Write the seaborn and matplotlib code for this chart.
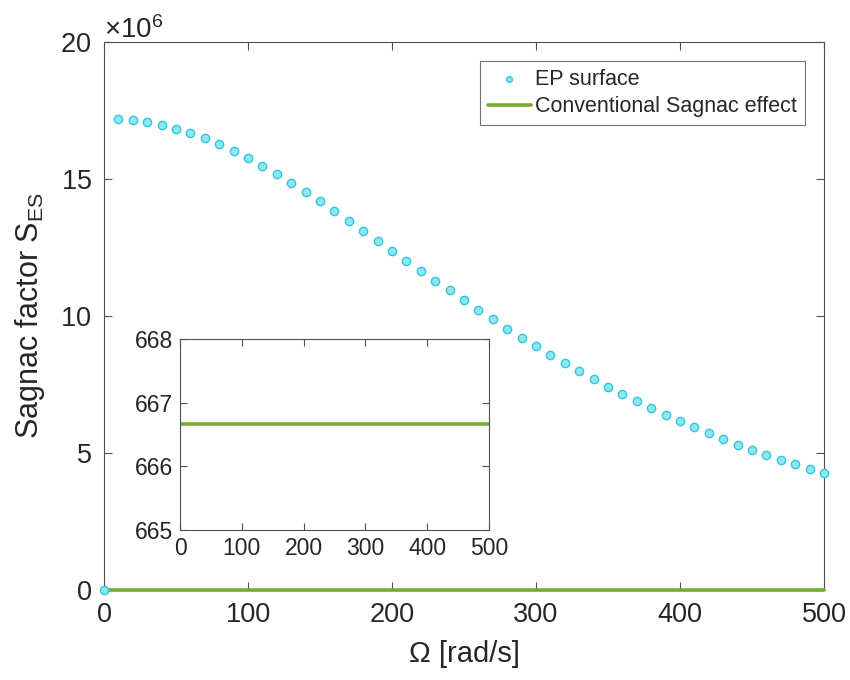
import numpy as np
import pandas as pd
import seaborn as sns
import matplotlib.pyplot as plt
from matplotlib.ticker import ScalarFormatter

# Data
omega = [0, 10, 20, 30, 40, 50, 60, 70, 80, 90, 100, 110, 120, 130, 140, 150,
         160, 170, 180, 190, 200, 210, 220, 230, 240, 250, 260, 270, 280, 290,
         300, 310, 320, 330, 340, 350, 360, 370, 380, 390, 400, 410, 420, 430,
         440, 450, 460, 470, 480, 490, 500]
ep_millions = [0, 17.17, 17.15, 17.07, 16.96, 16.82, 16.67, 16.48, 16.26, 16.02,
               15.75, 15.47, 15.17, 14.85, 14.52, 14.18, 13.84, 13.47, 13.11,
               12.74, 12.38, 12.01, 11.65, 11.28, 10.93, 10.58, 10.23, 9.88,
               9.53, 9.20, 8.89, 8.58, 8.28, 7.99, 7.70, 7.42, 7.14, 6.90, 6.64,
               6.40, 6.15, 5.94, 5.72, 5.51, 5.30, 5.11, 4.93, 4.74, 4.59, 4.40,
               4.26]
conv_omega = [0, 500]
conv_value = [666.67, 666.67]

main_xticks = [0, 100, 200, 300, 400, 500]
main_yticks = [0, 5e6, 10e6, 15e6, 20e6]
inset_yticks = [665, 666, 667, 668]

df_ep = pd.DataFrame({"omega": omega, "S": np.array(ep_millions) * 1e6})
df_conv = pd.DataFrame({"omega": conv_omega, "S": conv_value})

sns.set_style("ticks")
plt.rcParams["font.family"] = ["Liberation Sans", "DejaVu Sans"]
plt.rcParams["mathtext.fontset"] = "custom"
plt.rcParams["mathtext.rm"] = "Liberation Sans"
plt.rcParams["mathtext.it"] = "Liberation Sans:italic"
plt.rcParams["text.color"] = "#262626"
plt.rcParams["axes.labelcolor"] = "#262626"
plt.rcParams["xtick.color"] = "#505050"
plt.rcParams["ytick.color"] = "#505050"
plt.rcParams["xtick.labelcolor"] = "#262626"
plt.rcParams["ytick.labelcolor"] = "#262626"

cyan_face = "#8FE5F1"
cyan_edge = "#35C8DD"
green = "#77AC30"
frame = "#505050"

fig = plt.figure(figsize=(8.5, 6.8), dpi=100)
ax = fig.add_axes([0.1224, 0.1324, 0.847, 0.806])

sns.lineplot(data=df_conv, x="omega", y="S", ax=ax, color=green, lw=2.6,
             label="Conventional Sagnac effect", zorder=3, clip_on=False)
sns.scatterplot(data=df_ep, x="omega", y="S", ax=ax, s=36, color=cyan_face,
                edgecolor=cyan_edge, linewidth=1.0, label="EP surface",
                zorder=4, clip_on=False)

ax.set_xlim(0, 500)
ax.set_ylim(0, 20e6)
ax.set_xticks(main_xticks)
ax.set_yticks(main_yticks)
fmt = ScalarFormatter(useMathText=True)
fmt.set_powerlimits((6, 6))
ax.yaxis.set_major_formatter(fmt)
ax.yaxis.get_offset_text().set_fontsize(20)
ax.tick_params(direction="in", length=6, width=0.8, top=True, right=True,
               labelsize=19.5, pad=9)
for sp in ax.spines.values():
    sp.set_visible(True)
    sp.set_color(frame)
    sp.set_linewidth(0.8)
ax.set_xlabel("Ω [rad/s]", fontsize=21, labelpad=8)
ax.set_ylabel(r"Sagnac factor S$_{\mathregular{ES}}$", fontsize=22, labelpad=10)

# legend order: points first, then line
handles, labels = ax.get_legend_handles_labels()
order = [labels.index("EP surface"), labels.index("Conventional Sagnac effect")]
leg = ax.legend([handles[i] for i in order], [labels[i] for i in order],
                loc="upper right", fontsize=15.5, frameon=True, fancybox=False,
                edgecolor=frame, borderaxespad=0.9, handlelength=2.0,
                handletextpad=0.2, borderpad=0.35, labelspacing=0.3,
                markerscale=0.7)
leg.get_frame().set_linewidth(0.8)

# Inset
axin = fig.add_axes([0.2118, 0.2206, 0.3635, 0.2804])
sns.lineplot(data=df_conv, x="omega", y="S", ax=axin, color=green, lw=2.6,
             legend=False)
axin.set_xlim(0, 500)
axin.set_ylim(665, 668)
axin.set_xticks(main_xticks)
axin.set_yticks(inset_yticks)
axin.set_xlabel("")
axin.set_ylabel("")
axin.tick_params(direction="in", length=5, width=0.8, top=True, right=True,
                 labelsize=16.5, pad=5)
for sp in axin.spines.values():
    sp.set_visible(True)
    sp.set_color(frame)
    sp.set_linewidth(0.8)

fig.savefig("out.png", dpi=100)
